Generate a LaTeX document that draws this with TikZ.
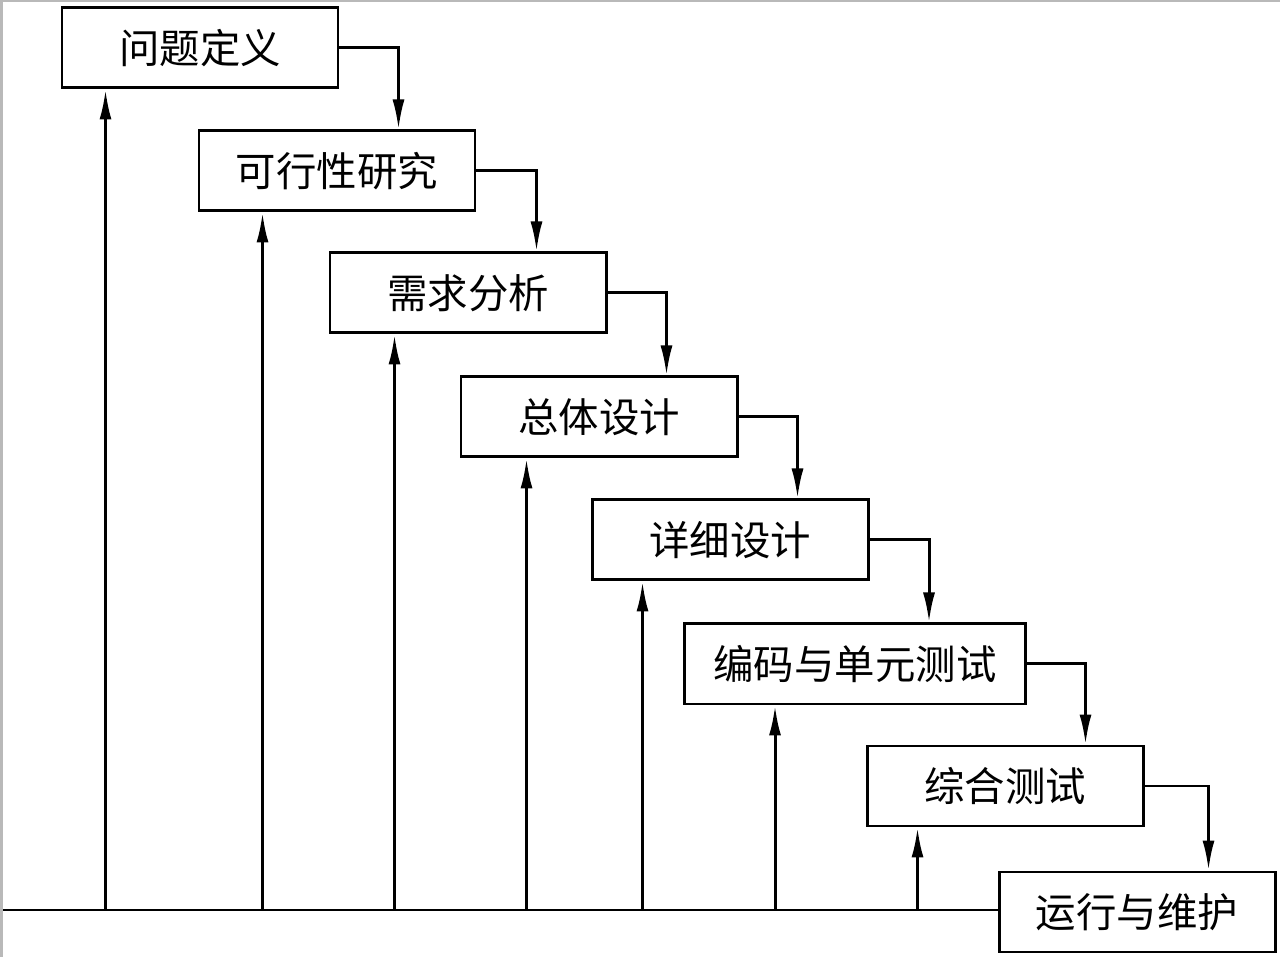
\documentclass[tikz,border=0pt]{standalone}
\usepackage{fontspec}
\setmainfont{Noto Sans CJK SC}
\usepackage{tikz}
\usetikzlibrary{arrows.meta,calc,positioning}
\tikzset{
  line cap=round,
  line join=round,
  every picture/.style={line width=1.7pt},
  box/.style={draw, minimum width=5.52cm, minimum height=1.6cm, inner sep=0pt, align=center, font=\fontsize{23}{27}\selectfont},
  widebox/.style={box, minimum width=6.82cm},
  arrow/.style={-{Latex[length=6mm,width=2.4mm]}},
}

\begin{document}
\begin{tikzpicture}
  \useasboundingbox (0,0) rectangle (25.6,19.14);
  % scan edge
  \fill[gray!55] (0,0) rectangle (0.06,19.14);
  \fill[gray!55] (0,19.10) rectangle (25.6,19.14);

  % stages
  \node[box] (define) at (4.00,18.18) {问题定义};
  \node[box] (feasible) at (6.74,15.72) {可行性研究};
  \node[box] (require) at (9.36,13.28) {需求分析};
  \node[box] (overall) at (11.98,10.80) {总体设计};
  \node[box] (detail) at (14.60,8.34) {详细设计};
  \node[widebox] (coding) at (17.10,5.86) {编码与单元测试};
  \node[box] (integrate) at (20.10,3.42) {综合测试};
  \node[box] (maintain) at (22.74,0.90) {运行与维护};

  % cascade
  \draw[arrow] (define.east) -| ([xshift=4.02cm]feasible.north west);
  \draw[arrow] (feasible.east) -| ([xshift=4.16cm]require.north west);
  \draw[arrow] (require.east) -| ([xshift=4.14cm]overall.north west);
  \draw[arrow] (overall.east) -| ([xshift=4.14cm]detail.north west);
  \draw[arrow] (detail.east) -| ([xshift=4.92cm]coding.north west);
  \draw[arrow] (coding.east) -| ([xshift=4.40cm]integrate.north west);
  \draw[arrow] (integrate.east) -| ([xshift=4.22cm]maintain.north west);

  % feedback line
  \coordinate (base) at (0.06,0.94);
  \draw (base) -- (maintain.west |- base);

  \coordinate (up1) at ([xshift=0.90cm]define.south west);
  \coordinate (up2) at ([xshift=1.30cm]feasible.south west);
  \coordinate (up3) at ([xshift=1.32cm]require.south west);
  \coordinate (up4) at ([xshift=1.34cm]overall.south west);
  \coordinate (up5) at ([xshift=1.04cm]detail.south west);
  \coordinate (up6) at ([xshift=1.84cm]coding.south west);
  \coordinate (up7) at ([xshift=1.04cm]integrate.south west);
  \draw[arrow] (up1 |- base) -- (up1);
  \draw[arrow] (up2 |- base) -- (up2);
  \draw[arrow] (up3 |- base) -- (up3);
  \draw[arrow] (up4 |- base) -- (up4);
  \draw[arrow] (up5 |- base) -- (up5);
  \draw[arrow] (up6 |- base) -- (up6);
  \draw[arrow] (up7 |- base) -- (up7);
\end{tikzpicture}
\end{document}
